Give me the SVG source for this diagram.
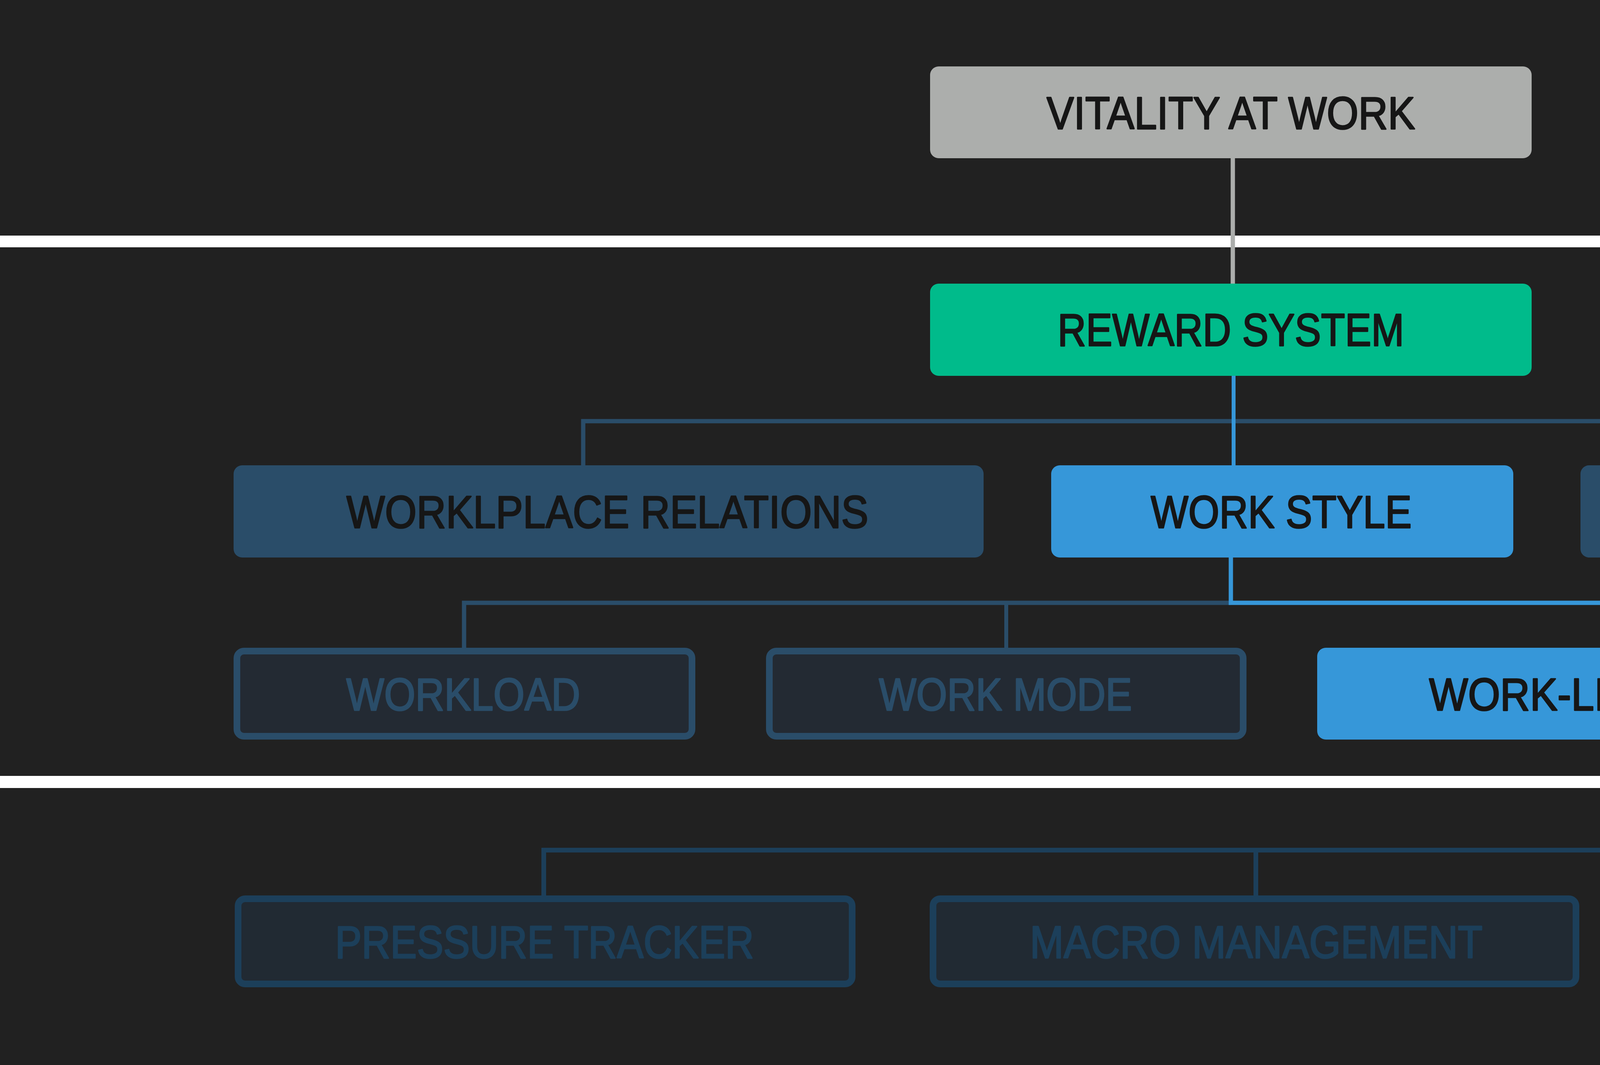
<svg xmlns="http://www.w3.org/2000/svg" width="7690" height="2726" viewBox="0 0 7690 2726">
<style>
.bx{font-family:"Liberation Sans",Arial,sans-serif;font-size:117px;text-anchor:middle;stroke-width:3.5px;stroke-linejoin:round}
.rt{font-family:"Liberation Sans",Arial,sans-serif;font-size:100px;font-weight:bold}
.hd{font-family:"Liberation Sans",Arial,sans-serif;font-size:144px;font-weight:bold;stroke-width:2px}
.dk{fill:#161616;stroke:#161616}
.c{fill:none;stroke-linecap:butt;stroke-linejoin:miter}
</style>
<rect x="0" y="0" width="7690" height="2726" fill="#212121"/>
<rect x="0" y="603" width="7690" height="30" fill="#ffffff"/>
<rect x="0" y="1986" width="7690" height="31" fill="#ffffff"/>

<g id="connectors">
  <line class="c" x1="3156" y1="405" x2="3156" y2="726" stroke="#acaeac" stroke-width="11"/>
  <polyline class="c" points="1493,1191 1493,1078 4875,1078 4875,1191" stroke="#2a4d69" stroke-width="11"/>
  <line class="c" x1="3158" y1="962" x2="3158" y2="1191" stroke="#3697d9" stroke-width="10"/>
  <polyline class="c" points="1188,1658 1188,1543 3151,1543" stroke="#2a4d69" stroke-width="11"/>
  <line class="c" x1="2576" y1="1543" x2="2576" y2="1658" stroke="#2a4d69" stroke-width="10"/>
  <polyline class="c" points="3151,1427 3151,1543 4541,1543 4541,1658" stroke="#3697d9" stroke-width="11"/>
  <polyline class="c" points="1392,2292 1392,2176 4541,2176" stroke="#1c3f5a" stroke-width="12"/>
  <line class="c" x1="3215" y1="2176" x2="3215" y2="2292" stroke="#1c3f5a" stroke-width="12"/>
  <polyline class="c" points="4541,1893 4541,2176 4972,2176 4972,2292" stroke="#1077bb" stroke-width="12"/>
</g>

<g id="n-vitality">
  <rect x="2381" y="170" width="1540" height="235" rx="22" fill="#acaeac"/>
  <text class="bx dk" x="3151" y="330" textLength="943" lengthAdjust="spacingAndGlyphs">VITALITY AT WORK</text>
</g>
<g id="n-reward">
  <rect x="2381" y="726" width="1540" height="236" rx="22" fill="#00bb8b"/>
  <text class="bx dk" x="3151" y="885" textLength="887" lengthAdjust="spacingAndGlyphs">REWARD SYSTEM</text>
</g>
<g id="n-relations">
  <rect x="598" y="1191" width="1920" height="236" rx="22" fill="#2a4d69"/>
  <text class="bx dk" x="1555" y="1351" textLength="1336" lengthAdjust="spacingAndGlyphs">WORKLPLACE RELATIONS</text>
</g>
<g id="n-workstyle">
  <rect x="2691" y="1191" width="1183" height="236" rx="22" fill="#3697d9"/>
  <text class="bx dk" x="3280" y="1351" textLength="668" lengthAdjust="spacingAndGlyphs">WORK STYLE</text>
</g>
<g id="n-regulations">
  <rect x="4046" y="1191" width="1657" height="236" rx="22" fill="#2a4d69"/>
  <text class="bx dk" x="4875" y="1351" textLength="1262" lengthAdjust="spacingAndGlyphs">COMPANY REGULATIONS</text>
</g>
<g id="n-workload">
  <rect x="606.5" y="1666.5" width="1165" height="218" rx="18" fill="#232a33" stroke="#2a4d69" stroke-width="17"/>
  <text class="bx" fill="#2a4d69" stroke="#2a4d69" x="1186" y="1818" textLength="599" lengthAdjust="spacingAndGlyphs">WORKLOAD</text>
</g>
<g id="n-workmode">
  <rect x="1969.5" y="1666.5" width="1213" height="218" rx="18" fill="#232a33" stroke="#2a4d69" stroke-width="17"/>
  <text class="bx" fill="#2a4d69" stroke="#2a4d69" x="2574" y="1818" textLength="648" lengthAdjust="spacingAndGlyphs">WORK MODE</text>
</g>
<g id="n-wlb">
  <rect x="3372" y="1658" width="2331" height="235" rx="22" fill="#3697d9"/>
  <text class="bx dk" x="4533" y="1818" textLength="1749" lengthAdjust="spacingAndGlyphs">WORK-LIFE BALANCE (HARMONY)</text>
</g>
<g id="n-pressure">
  <rect x="609.5" y="2300.5" width="1572" height="218" rx="18" fill="#212a33" stroke="#1c3f5a" stroke-width="17"/>
  <text class="bx" fill="#1c3f5a" stroke="#1c3f5a" x="1394" y="2452" textLength="1072" lengthAdjust="spacingAndGlyphs">PRESSURE TRACKER</text>
</g>
<g id="n-macro">
  <rect x="2388.5" y="2300.5" width="1646" height="218" rx="18" fill="#212a33" stroke="#1c3f5a" stroke-width="17"/>
  <text class="bx" fill="#1c3f5a" stroke="#1c3f5a" x="3216" y="2452" textLength="1159" lengthAdjust="spacingAndGlyphs">MACRO MANAGEMENT</text>
</g>
<g id="n-life">
  <rect x="4239" y="2292" width="1466" height="235" rx="22" fill="#1077bb"/>
  <text class="bx" fill="#ffffff" stroke="#ffffff" x="4976" y="2452" textLength="953" lengthAdjust="spacingAndGlyphs">LIFE ENRICHMENT</text>
</g>

<g id="legend">
  <text class="hd" fill="#acaeac" stroke="#acaeac" x="6309" y="220" textLength="927" lengthAdjust="spacingAndGlyphs">PROJECT GOAL</text>
  <text class="rt" fill="#ffffff" x="6307" y="381" textLength="997" lengthAdjust="spacingAndGlyphs">CONTEXTMAPPING with</text>
  <text class="rt" fill="#ffffff" x="6307" y="497" textLength="1086" lengthAdjust="spacingAndGlyphs">MILLENNIAL EMPLOYEES</text>

  <text class="hd" fill="#3697d9" stroke="#3697d9" x="6303" y="1182" textLength="1194" lengthAdjust="spacingAndGlyphs">VITALITY STRATEGY</text>
  <text class="rt" fill="#8c8c8c" x="6307" y="1335" textLength="1000" lengthAdjust="spacingAndGlyphs">[ SELECTION CRITERIA ]</text>
  <text class="rt" fill="#ffffff" x="6307" y="1447" textLength="782" lengthAdjust="spacingAndGlyphs">CO-CREATION with</text>
  <text class="rt" fill="#ffffff" x="6307" y="1562" textLength="1086" lengthAdjust="spacingAndGlyphs">MILLENNIAL EMPLOYEES</text>

  <text class="hd" fill="#1077bb" stroke="#1077bb" x="6312" y="2242" textLength="1163" lengthAdjust="spacingAndGlyphs">DESIGN DIRECTION</text>
  <text class="rt" fill="#8c8c8c" x="6309" y="2394" textLength="996" lengthAdjust="spacingAndGlyphs">[ SELECTION CRITERIA ]</text>
  <text class="rt" fill="#ffffff" x="6305" y="2510" textLength="912" lengthAdjust="spacingAndGlyphs">SOCIAL INTERACTION</text>
  <text class="rt" fill="#ffffff" x="6303" y="2626" textLength="958" lengthAdjust="spacingAndGlyphs">ACTIVE PARTICIPATION</text>
</g>
</svg>
